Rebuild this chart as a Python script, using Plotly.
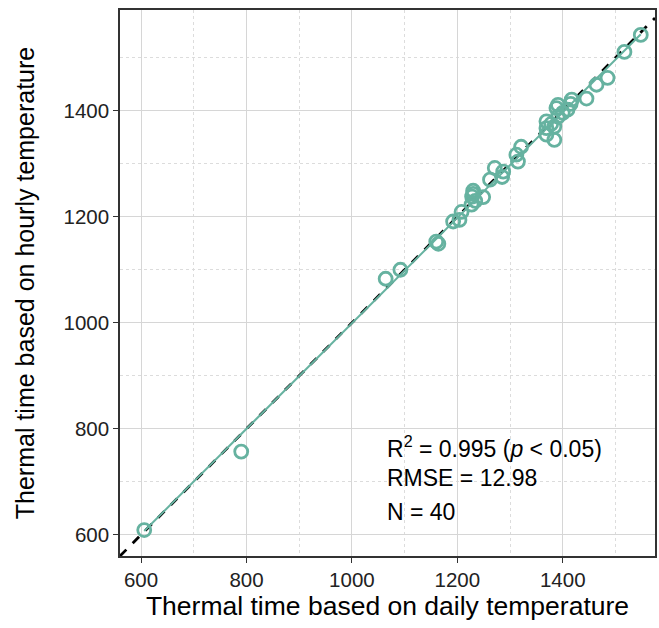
import numpy as np
import plotly.graph_objects as go

# Thermal time based on daily temperature (x) and hourly temperature (y)
daily = [606, 790, 1064, 1092, 1160, 1164, 1192, 1204, 1208, 1227,
         1230, 1230, 1228, 1249, 1234, 1262, 1271, 1287, 1285, 1312,
         1315, 1321, 1369, 1369, 1369, 1384, 1384, 1391, 1388, 1391,
         1409, 1415, 1417, 1445, 1464, 1485, 1517, 1548, 1378, 1400]
hourly = [609, 757, 1083, 1100, 1153, 1149, 1191, 1194, 1209, 1223,
          1249, 1243, 1238, 1237, 1230, 1270, 1292, 1285, 1275, 1317,
          1304, 1332, 1380, 1367, 1355, 1370, 1345, 1389, 1405, 1411,
          1402, 1413, 1421, 1423, 1449, 1462, 1511, 1543, 1375, 1396]

x_ticks = [600, 800, 1000, 1200, 1400]
y_ticks = [600, 800, 1000, 1200, 1400]
minor_ticks = [700, 900, 1100, 1300, 1500]
x_range = [560, 1575]
y_range = [560, 1590]

stats_lines = ["R<sup>2</sup> = 0.995 (<i>p</i> &lt; 0.05)", "RMSE = 12.98", "N = 40"]
stats_y = [766, 707, 643]

teal = "#66B2A0"
font = "Liberation Sans, Arial, sans-serif"

slope, intercept = np.polyfit(daily, hourly, 1)
fx = np.array([min(daily), max(daily)])

fig = go.Figure()
# 1:1 line
fig.add_trace(go.Scatter(x=x_range, y=x_range, mode="lines",
                         line=dict(color="black", width=2.8, dash="dash"),
                         showlegend=False, hoverinfo="skip"))
# regression line
fig.add_trace(go.Scatter(x=fx, y=slope * fx + intercept, mode="lines",
                         line=dict(color=teal, width=2),
                         showlegend=False, hoverinfo="skip"))
fig.add_trace(go.Scatter(x=daily, y=hourly, mode="markers",
                         marker=dict(symbol="circle-open", size=13, color=teal,
                                     line=dict(width=2.8, color=teal)),
                         showlegend=False))

for t, yy in zip(stats_lines, stats_y):
    fig.add_annotation(x=1063, y=yy, text=t, xanchor="left", yanchor="middle",
                       showarrow=False, font=dict(family=font, size=23, color="black"))

axis_common = dict(showline=True, linecolor="#333333", linewidth=1.5, mirror=True,
                   showgrid=True, gridcolor="#d6d6d6", gridwidth=1.2,
                   ticks="outside", ticklen=5, tickcolor="#333333",
                   tickfont=dict(family=font, size=20.5, color="#222222"),
                   zeroline=False,
                   minor=dict(tickvals=minor_ticks, showgrid=True, gridcolor="#dcdcdc",
                              griddash="dot", gridwidth=1.2, ticks=""))

fig.update_xaxes(range=x_range, tickvals=x_ticks, **axis_common,
                 title=dict(text="Thermal time based on daily temperature",
                            font=dict(family=font, size=26.5, color="black"), standoff=5))
fig.update_yaxes(range=y_range, tickvals=y_ticks, **axis_common,
                 title=dict(text="Thermal time based on hourly temperature",
                            font=dict(family=font, size=25, color="black"), standoff=22))

fig.update_layout(width=659, height=628, margin=dict(l=120, r=2, t=10, b=72),
                  plot_bgcolor="white", paper_bgcolor="white")

fig.write_html("out.html")
